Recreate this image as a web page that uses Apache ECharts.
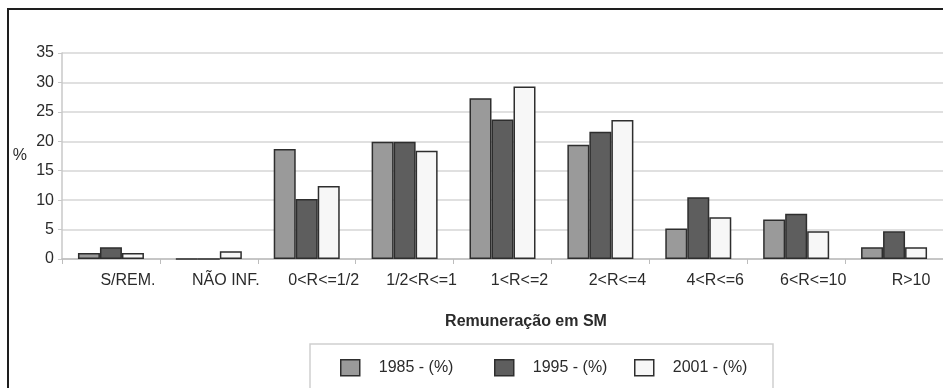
<!DOCTYPE html>
<html>
<head>
<meta charset="utf-8">
<style>
  html, body { margin: 0; padding: 0; background: #ffffff; }
  #chart { width: 943px; height: 388px; }
</style>
<script src="https://cdn.jsdelivr.net/npm/echarts@6/dist/echarts.min.js"></script>
</head>
<body>
<div id="chart"></div>
<script>
// Remuneration bands (in minimum wages) and share of workers per year
const categories = ['S/REM.', 'NÃO INF.', '0<R<=1/2', '1/2<R<=1', '1<R<=2', '2<R<=4', '4<R<=6', '6<R<=10', 'R>10'];
const seriesNames = ['1985 - (%)', '1995 - (%)', '2001 - (%)'];
const values1985 = [1.0, 0, 18.7, 19.9, 27.3, 19.4, 5.2, 6.7, 2.0];
const values1995 = [2.0, 0, 10.2, 19.9, 23.7, 21.6, 10.5, 7.7, 4.7];
const values2001 = [1.0, 1.3, 12.4, 18.4, 29.3, 23.6, 7.1, 4.7, 2.0];
const yTicks = [0, 5, 10, 15, 20, 25, 30, 35];

const fills = ['#9a9a9a', '#5e5e5e', '#f7f7f7'];
const edge = '#2e2e2e';
const font = '"Liberation Sans", Arial, sans-serif';
const textColor = '#2b2b2b';

const chart = echarts.init(document.getElementById('chart'), null, { renderer: 'canvas' });

const allValues = [values1985, values1995, values2001];

const series = seriesNames.map((name, i) => ({
  name: name,
  type: 'bar',
  data: allValues[i],
  barWidth: 22,
  barGap: '0%',
  itemStyle: { color: fills[i], borderColor: edge, borderWidth: 1.5 },
  emphasis: { disabled: true }
}));

// one legend block per series so each entry sits at its own spot in the box
const legendLefts = [340, 494, 634];
const legends = seriesNames.map((name, i) => ({
  data: [name],
  left: legendLefts[i],
  top: 359,
  icon: 'rect',
  itemWidth: 19,
  itemHeight: 16,
  itemStyle: { borderColor: edge, borderWidth: 1.5 },
  textStyle: { fontFamily: font, fontSize: 16, color: textColor, padding: [0, 0, 0, 14] },
  selectedMode: false,
  padding: 0
}));

chart.setOption({
  animation: false,
  backgroundColor: '#ffffff',
  grid: { left: 62, top: 53, width: 889, height: 206, containLabel: false },
  legend: legends,
  title: {
    text: 'Remuneração em SM',
    left: 521,
    top: 309,
    textAlign: 'center',
    textStyle: { fontFamily: font, fontSize: 16, fontWeight: 'bold', color: textColor }
  },
  xAxis: {
    type: 'category',
    data: categories,
    axisLine: { lineStyle: { color: '#bdbdbd', width: 1.5 } },
    axisTick: { show: true, length: 5, lineStyle: { color: '#bdbdbd' } },
    axisLabel: {
      interval: 0,
      fontFamily: font,
      fontSize: 16,
      color: textColor,
      margin: 14,
      padding: [0, 0, 0, 34]
    },
    splitLine: { show: false }
  },
  yAxis: {
    type: 'value',
    min: yTicks[0],
    max: yTicks[yTicks.length - 1],
    interval: 5,
    name: '%',
    nameLocation: 'middle',
    nameRotate: 0,
    nameGap: 35,
    nameTextStyle: { fontFamily: font, fontSize: 16, color: textColor },
    axisLine: { show: true, lineStyle: { color: '#c8c8c8', width: 1.5 } },
    axisTick: { show: true, length: 4, lineStyle: { color: '#c8c8c8' } },
    axisLabel: { fontFamily: font, fontSize: 16, color: textColor, margin: 8 },
    splitLine: { lineStyle: { color: '#d6d6d6', width: 1.5 } }
  },
  series: series,
  graphic: [
    {
      type: 'rect',
      silent: true,
      z: -1,
      shape: { x: 8, y: 9, width: 980, height: 420 },
      style: { fill: 'none', stroke: '#1e1e1e', lineWidth: 2 }
    },
    {
      type: 'rect',
      silent: true,
      z: -1,
      shape: { x: 310, y: 344, width: 463, height: 80 },
      style: { fill: 'none', stroke: '#cfcfcf', lineWidth: 1.5 }
    }
  ]
});
</script>
</body>
</html>
